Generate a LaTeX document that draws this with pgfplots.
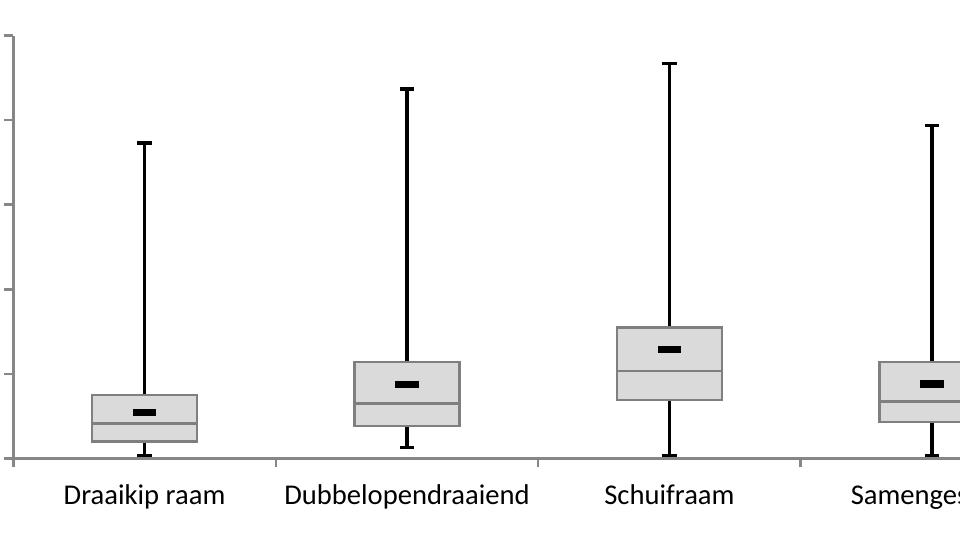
\documentclass[border=0pt]{standalone}
\usepackage{pgfplots}
\pgfplotsset{compat=1.18}
\usepgfplotslibrary{statistics}
\usepackage{fontspec}
\setmainfont{Carlito}
\definecolor{axgray}{HTML}{868686}
\definecolor{boxgray}{HTML}{7F7F7F}
\definecolor{boxfill}{HTML}{DADADA}
\pgfdeclareplotmark{meanbar}{\pgfpathrectangle{\pgfpoint{-11.7pt}{-3.6pt}}{\pgfpoint{23.4pt}{7.2pt}}\pgfusepathqfill}
\begin{document}
\begin{tikzpicture}
\begin{axis}[
  name=ax,
  scale only axis,
  width=946.7pt, height=422.6pt,
  xmin=-0.5, xmax=3.107, ymin=0, ymax=5,
  axis x line*=bottom, axis y line*=left,
  axis line style={draw=axgray, line width=2.5pt},
  every tick/.style={draw=axgray, line width=2.5pt},
  tick align=outside, major tick length=9pt,
  ytick={0,1,2,3,4,5}, yticklabels={},
  xtick={-0.5,0.5,1.5,2.5}, xticklabels={},
  extra x ticks={0,1,2,3},
  extra x tick labels={Draaikip raam,Dubbelopendraaiend,Schuifraam,Samengesteld},
  extra x tick style={major tick length=0pt, xticklabel style={anchor=base, yshift=-46pt, font=\fontsize{28.6}{34}\selectfont, text=black, inner sep=0pt}},
  clip=false,
  boxplot/draw direction=y,
  boxplot/box extend=0.4,
  boxplot/whisker extend=0.055,
  boxplot/every whisker/.style={draw=black, line width=3.2pt},
  boxplot/every median/.style={draw=boxgray, line width=2.5pt},
  boxplot/every box/.style={draw=boxgray, fill=boxfill, line width=2.5pt},
]
\addplot[boxplot prepared={draw position=0, lower whisker=0.035, lower quartile=0.196, median=0.414, upper quartile=0.75, upper whisker=3.73}] coordinates {};
\addplot[boxplot prepared={draw position=1, lower whisker=0.13, lower quartile=0.38, median=0.65, upper quartile=1.14, upper whisker=4.37}] coordinates {};
\addplot[boxplot prepared={draw position=2, lower whisker=0.035, lower quartile=0.69, median=1.03, upper quartile=1.55, upper whisker=4.67}] coordinates {};
\addplot[boxplot prepared={draw position=3, lower whisker=0.035, lower quartile=0.43, median=0.67, upper quartile=1.14, upper whisker=3.94}] coordinates {};
\addplot[only marks, mark=meanbar, black] coordinates {(0,0.54) (1,0.87) (2,1.29) (3,0.88)};
\end{axis}
\pgfresetboundingbox
\path (ax.south west) ++(-13.3pt,-81.7pt) rectangle ++(960pt,540pt);
\end{tikzpicture}
\end{document}
